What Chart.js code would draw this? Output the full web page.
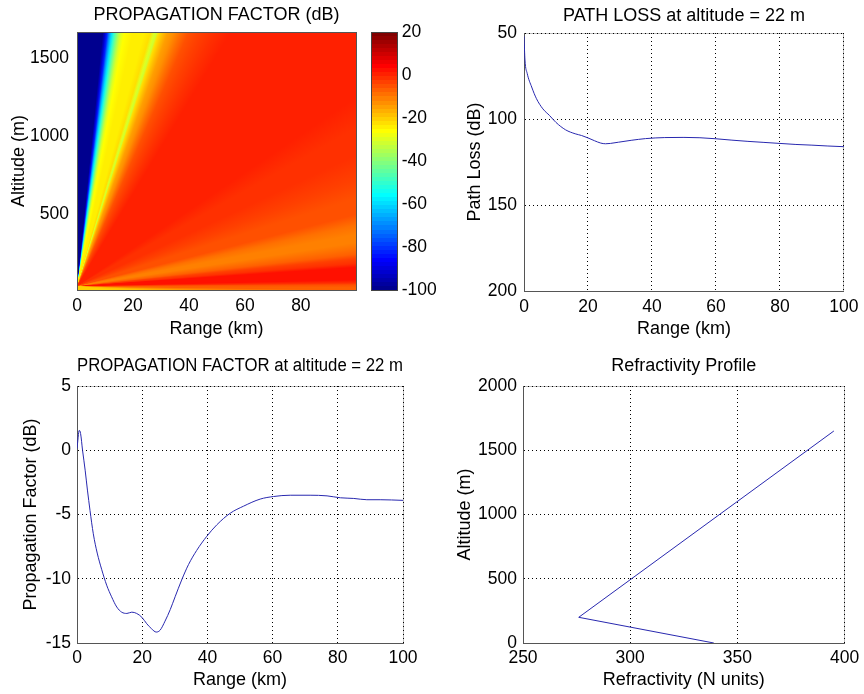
<!DOCTYPE html>
<html>
<head>
<meta charset="utf-8">
<title>Propagation factor</title>
<script src="https://cdn.jsdelivr.net/npm/chart.js@4.4.0/dist/chart.umd.min.js"></script>
<style>
  body { margin: 0; background: #fff; }
  #wrap { position: relative; width: 864px; height: 694px; }
  canvas { position: absolute; }
</style>
</head>
<body>
<div id="wrap">
  <canvas id="pfMap" width="360" height="345" style="left:0;top:0"></canvas>
  <canvas id="pfBar" width="80" height="330" style="left:360px;top:0"></canvas>
  <canvas id="loss" width="424" height="345" style="left:440px;top:0"></canvas>
  <canvas id="pf22" width="440" height="364" style="left:0;top:330px"></canvas>
  <canvas id="refr" width="424" height="364" style="left:440px;top:330px"></canvas>
</div>
<script>
// ---- propagation factor map: values along rays from the antenna ----
var mapRangeMax = 99.7, mapAltMin = 15, mapAltMax = 1668, srcAlt = 40;
// each ray ends on the frame at (rayRange, rayAlt); rayDb is the level along it
var rayRange = [0, 9.2, 10.0, 10.8, 11.6, 12.4, 13.2, 14.0, 14.9, 15.8, 17, 20, 24, 26.3, 27.6, 28.4, 29.3, 30.8, 32.5, 34.5, 37, 40, 44, 49, 55, 62, 72, 85,
  99.7,
  99.7, 99.7, 99.7, 99.7, 99.7, 99.7, 99.7, 99.7, 99.7, 99.7, 99.7, 99.7, 99.7, 99.7, 99.7, 99.7, 99.7, 99.7, 99.7, 99.7,
  99.7,
  75, 55, 38, 24, 12, 4, 0];
var rayAlt = [1668, 1668, 1668, 1668, 1668, 1668, 1668, 1668, 1668, 1668, 1668, 1668, 1668, 1668, 1668, 1668, 1668, 1668, 1668, 1668, 1668, 1668, 1668, 1668, 1668, 1668, 1668, 1668,
  1668,
  1450, 1250, 1050, 880, 720, 600, 500, 430, 370, 320, 280, 245, 215, 185, 160, 120, 80, 60, 48, 30,
  15,
  15, 15, 15, 15, 15, 15, 15];
var rayDb = [-100, -100, -92, -82, -70, -60, -50, -42, -35, -29, -25.5, -24.5, -23.5, -23, -29, -31, -23, -19, -15, -12, -8.5, -5.5, -3, -1.2, 0, 0.8, 1, 0.5,
  -0.5,
  1.2, 0.5, -1.2, -2.2, -3.2, -4.5, -6, -8.5, -10.5, -11, -9, -6.5, -4, -1, 1.5, 2.5, 2, -2, -6, -8,
  -8,
  -9, -11, -14, -18, -21, -21, -21];
var cMin = -100, cMax = 20;
var mapRangeTicks = [0, 20, 40, 60, 80];
var mapAltTicks = [500, 1000, 1500];
var cbTicks = [-100, -80, -60, -40, -20, 0, 20];

// ---- path loss at 22 m ----
var lossRange = [0, 0.3, 1, 2.4, 3.9, 5.9, 8, 10, 13, 16, 18, 20, 22, 24, 25.5, 27, 29.5, 33.5, 38, 44, 50, 55, 60, 65, 70, 75, 80, 85, 90, 95, 100];
var lossDb = [52, 65.7, 73.5, 81.4, 88.2, 94.1, 98, 102, 106.3, 108.6, 109.6, 111, 112.6, 114, 114.4, 114.2, 113.5, 112.4, 111.4, 110.8, 110.7, 110.9, 111.5, 112.3, 113, 113.6, 114.2, 114.8, 115.2, 115.7, 116.1];
var rangeTicks = [0, 20, 40, 60, 80, 100];
var lossTicks = [50, 100, 150, 200];

// ---- propagation factor at 22 m ----
var pfRange = [0, 0.7, 1.1, 1.7, 2.5, 3.2, 4, 5, 6.2, 7.6, 9.1, 10.6, 12.2, 13.7, 15.3, 16.8, 18.3, 19.9, 21.4, 22.9, 24.3, 25.5, 27, 28.6, 30.1, 32.1, 34.2, 36.7, 39.8, 42.9, 47, 51.1, 56.2, 60.3, 65.4, 71.5, 76.7, 80.8, 84.9, 88.9, 93, 100];
var pfDb = [0.13, 1.55, 1.3, 0, -1.55, -3.1, -4.7, -6.5, -8.0, -9.3, -10.5, -11.4, -12.2, -12.6, -12.7, -12.6, -12.7, -13.0, -13.5, -13.9, -14.15, -14.0, -13.3, -12.4, -11.4, -10.1, -8.9, -7.8, -6.7, -5.8, -4.9, -4.35, -3.8, -3.6, -3.5, -3.5, -3.55, -3.7, -3.75, -3.85, -3.85, -3.9];
var pfTicks = [-15, -10, -5, 0, 5];

// ---- refractivity profile ----
var refrN = [339, 276, 395];
var refrAlt = [0, 200, 1650];
var refrTicks = [250, 300, 350, 400];
var refrAltTicks = [0, 500, 1000, 1500, 2000];

Chart.defaults.font.family = "'Liberation Sans', Arial, Helvetica, sans-serif";
Chart.defaults.font.size = 17.5;
Chart.defaults.color = '#000';
Chart.defaults.animation = false;
Chart.defaults.responsive = false;
Chart.defaults.plugins.legend.display = false;
Chart.defaults.plugins.tooltip.enabled = false;

var lineBlue = 'rgb(40,40,175)';

// MATLAB jet(64): ramp up, plateau, ramp down over 47 steps per channel
function ramp(j) {
  if (j < 1 || j > 47) return 0;
  if (j <= 16) return j / 16;
  if (j < 32) return 1;
  return (48 - j) / 16;
}
function jetColor(i) {
  var c = [ramp(i - 24), ramp(i - 8), ramp(i + 8)].map(function (v) { return Math.round(v * 255); });
  return 'rgb(' + c[0] + ',' + c[1] + ',' + c[2] + ')';
}
function dbColor(v) {
  var i = Math.floor((v - cMin) / (cMax - cMin) * 64) + 1;
  return jetColor(Math.max(1, Math.min(64, i)));
}

function px(v) { return Math.round(v - 0.5) + 0.5; }

// optional box under the grid, optional box over the data
function frame(under, over) {
  function box(chart, color) {
    var a = chart.chartArea, ctx = chart.ctx;
    ctx.save();
    ctx.strokeStyle = color;
    ctx.lineWidth = 1;
    ctx.strokeRect(px(a.left), px(a.top), px(a.right) - px(a.left), px(a.bottom) - px(a.top));
    ctx.restore();
  }
  return {
    id: 'frame',
    beforeDraw: function (chart) {
      if (under) box(chart, under);
    },
    afterDatasetsDraw: function (chart) {
      if (over) box(chart, over);
    }
  };
}

function title(text, top, bottom) {
  return { display: true, text: text, fullSize: false, font: { size: 18, weight: 'normal' }, padding: { top: top, bottom: bottom } };
}

function useTicks(list) {
  return function (s) { s.ticks = list.map(function (v) { return { value: v }; }); };
}

// axis with dotted grid and a solid axis line
function gridAxis(o) {
  return {
    type: 'linear',
    position: o.position,
    min: o.min, max: o.max,
    reverse: !!o.reverse,
    afterBuildTicks: useTicks(o.ticks),
    ticks: { padding: o.pad, callback: function (v) { return String(v); } },
    grid: { color: '#000', lineWidth: 1, drawTicks: false },
    border: { display: true, color: '#555', width: 1, dash: [1, 3] },
    title: { display: true, text: o.label, font: { size: 18 }, padding: o.titlePad },
    afterFit: o.size
  };
}

function pts(xs, ys) {
  return xs.map(function (x, i) { return { x: x, y: ys[i] }; });
}

// conic fill: colour varies with elevation angle seen from the antenna
function mapFill(ctx) {
  var chart = ctx.chart;
  if (!chart.chartArea || !chart.ctx.createConicGradient) return dbColor(0);
  var xs = chart.scales.x, ys = chart.scales.y;
  var cx = xs.getPixelForValue(0), cy = ys.getPixelForValue(srcAlt);
  var g = chart.ctx.createConicGradient(-Math.PI / 2, cx, cy);
  var last = 0;
  rayRange.forEach(function (r, i) {
    var x = xs.getPixelForValue(r), y = ys.getPixelForValue(rayAlt[i]);
    var a = Math.atan2(y - cy, x - cx) + Math.PI / 2;
    if (a < 0) a += 2 * Math.PI;
    var off = Math.max(last, Math.min(1, a / (2 * Math.PI)));
    last = off;
    g.addColorStop(off, dbColor(rayDb[i]));
  });
  return g;
}

new Chart(document.getElementById('pfMap'), {
  type: 'line',
  data: {
    datasets: [{
      data: [{ x: 0, y: mapAltMax }, { x: mapRangeMax, y: mapAltMax }],
      fill: 'start',
      backgroundColor: mapFill,
      borderColor: 'transparent',
      borderWidth: 0,
      pointRadius: 0
    }]
  },
  options: {
    layout: { padding: { left: 0, right: 4, top: 0, bottom: 0 } },
    plugins: { title: title('PROPAGATION FACTOR (dB)', 4, 6.4) },
    scales: {
      x: {
        type: 'linear', min: 0, max: mapRangeMax,
        afterBuildTicks: useTicks(mapRangeTicks),
        ticks: { padding: 6, callback: function (v) { return String(v); } },
        grid: { display: false, drawTicks: false },
        border: { display: false },
        title: { display: true, text: 'Range (km)', font: { size: 18 }, padding: { top: 0, bottom: 5.2 } },
        afterFit: function (s) { s.height = 55; }
      },
      y: {
        type: 'linear', min: mapAltMin, max: mapAltMax,
        afterBuildTicks: useTicks(mapAltTicks),
        ticks: { padding: 8, callback: function (v) { return String(v); } },
        grid: { display: false, drawTicks: false },
        border: { display: false },
        title: { display: true, text: 'Altitude (m)', font: { size: 18 }, padding: { top: 8.4, bottom: 0 } },
        afterFit: function (s) { s.width = 77; }
      }
    }
  },
  plugins: [frame(null, '#555')]
});

// colour bar, 64 flat bands
function barFill(ctx) {
  var chart = ctx.chart, a = chart.chartArea;
  if (!a) return dbColor(0);
  var g = chart.ctx.createLinearGradient(0, a.bottom, 0, a.top);
  for (var i = 0; i < 64; i++) {
    g.addColorStop(i / 64, jetColor(i + 1));
    g.addColorStop((i + 1) / 64, jetColor(i + 1));
  }
  return g;
}

new Chart(document.getElementById('pfBar'), {
  type: 'bar',
  data: {
    labels: ['dB'],
    datasets: [{ data: [[cMin, cMax]], backgroundColor: barFill, borderWidth: 0, barPercentage: 1, categoryPercentage: 1 }]
  },
  options: {
    layout: { padding: { left: 11, right: 0, top: 32, bottom: 40 } },
    scales: {
      x: { display: false },
      y: {
        type: 'linear', position: 'right', min: cMin, max: cMax,
        afterBuildTicks: useTicks(cbTicks),
        ticks: { padding: 4.7, callback: function (v) { return String(v); } },
        grid: { display: false, drawTicks: false },
        border: { display: false },
        afterFit: function (s) { s.width = 43; }
      }
    }
  },
  plugins: [frame(null, '#444')]
});

new Chart(document.getElementById('loss'), {
  type: 'line',
  data: {
    datasets: [{
      data: pts(lossRange, lossDb),
      borderColor: lineBlue, borderWidth: 1, pointRadius: 0,
      cubicInterpolationMode: 'monotone', fill: false
    }]
  },
  options: {
    layout: { padding: { left: 0, right: 15, top: 1, bottom: 0 } },
    plugins: { title: title('PATH LOSS at altitude = 22 m', 4, 6.4) },
    scales: {
      x: gridAxis({ position: 'bottom', min: 0, max: 100, ticks: rangeTicks, pad: 5.5, label: 'Range (km)',
        titlePad: { top: 0, bottom: 5.2 }, size: function (s) { s.height = 54; } }),
      y: gridAxis({ position: 'left', min: 50, max: 200, reverse: true, ticks: lossTicks, pad: 7, label: 'Path Loss (dB)',
        titlePad: { top: 24.2, bottom: 0 }, size: function (s) { s.width = 84; } })
    }
  },
  plugins: [frame('#bbb', null)]
});

new Chart(document.getElementById('pf22'), {
  type: 'line',
  data: {
    datasets: [{
      data: pts(pfRange, pfDb),
      borderColor: lineBlue, borderWidth: 1, pointRadius: 0,
      cubicInterpolationMode: 'monotone', fill: false
    }]
  },
  options: {
    layout: { padding: { left: 0, right: 37, top: 22, bottom: 0 } },
    plugins: { title: title('PROPAGATION FACTOR at altitude = 22 m', 3.2, 9.2) },
    scales: {
      x: gridAxis({ position: 'bottom', min: 0, max: 100, ticks: rangeTicks, pad: 4.8, label: 'Range (km)',
        titlePad: { top: 0, bottom: 2.7 }, size: function (s) { s.height = 51; } }),
      y: gridAxis({ position: 'left', min: -15, max: 5, ticks: pfTicks, pad: 6, label: 'Propagation Factor (dB)',
        titlePad: { top: 20, bottom: 0 }, size: function (s) { s.width = 77; } })
    }
  },
  plugins: [frame('#bbb', null)]
});

new Chart(document.getElementById('refr'), {
  type: 'line',
  data: {
    datasets: [{
      data: pts(refrN, refrAlt),
      borderColor: lineBlue, borderWidth: 1, pointRadius: 0, tension: 0, fill: false
    }]
  },
  options: {
    layout: { padding: { left: 0, right: 15, top: 22, bottom: 0 } },
    plugins: { title: title('Refractivity Profile', 3.2, 9.2) },
    scales: {
      x: gridAxis({ position: 'bottom', min: 250, max: 400, ticks: refrTicks, pad: 4.8, label: 'Refractivity (N units)',
        titlePad: { top: 0, bottom: 2.7 }, size: function (s) { s.height = 51; } }),
      y: gridAxis({ position: 'left', min: 0, max: 2000, ticks: refrAltTicks, pad: 6, label: 'Altitude (m)',
        titlePad: { top: 14.2, bottom: 0 }, size: function (s) { s.width = 83; } })
    }
  },
  plugins: [frame('#bbb', null)]
});
</script>
</body>
</html>
